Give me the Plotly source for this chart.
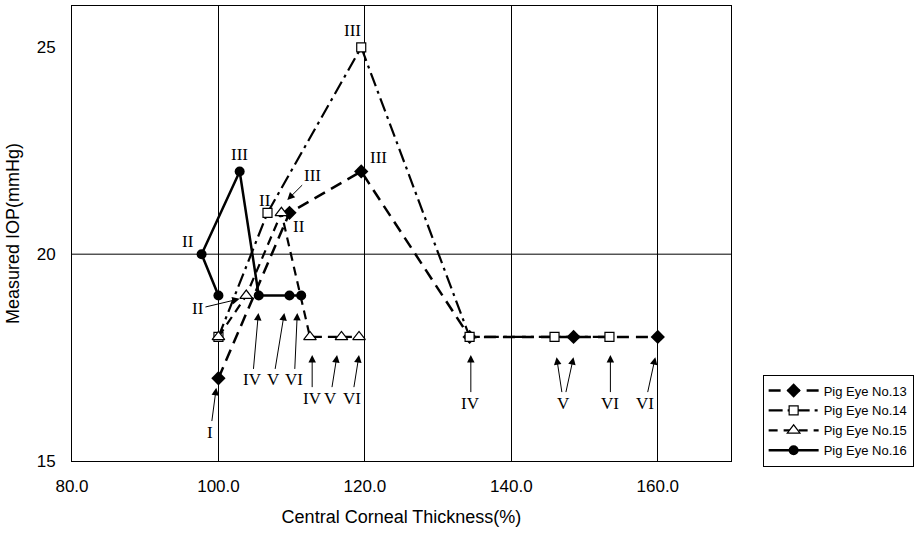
import plotly.graph_objects as go

# ---- data ----
x13 = [100.0, 109.7, 119.5, 134.3, 148.5, 160.0]
y13 = [17, 21, 22, 18, 18, 18]
x14 = [100.0, 106.7, 119.5, 134.3, 145.9, 153.4]
y14 = [18, 21, 25, 18, 18, 18]
x15 = [100.0, 103.8, 108.6, 112.5, 116.8, 119.2]
y15 = [18, 19, 21, 18, 18, 18]
x16 = [100.0, 97.7, 102.9, 105.5, 109.7, 111.3]
y16 = [19, 20, 22, 19, 19, 19]

names = ["Pig Eye No.13", "Pig Eye No.14", "Pig Eye No.15", "Pig Eye No.16"]

# labels without arrows: text, x, y
plain_labels = ["III", "II", "II", "II", "III", "III"]
plain_x = [102.9, 95.8, 106.3, 111.05, 121.9, 118.3]
plain_y = [22.40, 20.30, 21.31, 20.66, 22.33, 25.40]

# labels with arrows: text, text x/y, arrow-head x/y (flag: show text)
arrow_labels = ["III", "II", "I", "IV", "V", "VI", "IV", "V", "VI", "IV", "V", "V", "VI", "VI"]
arrow_show = [1, 1, 1, 1, 1, 1, 1, 1, 1, 1, 1, 0, 1, 1]
arrow_tx = [112.8, 97.2, 98.9, 104.65, 107.5, 110.36, 112.8, 115.27, 118.26, 134.47, 147.13, 147.13, 153.53, 158.3]
arrow_ty = [21.91, 18.68, 15.70, 16.96, 16.96, 16.96, 16.52, 16.52, 16.52, 16.40, 16.40, 16.40, 16.40, 16.40]
arrow_hx = [109.4, 102.9, 99.7, 105.46, 109.0, 110.77, 112.8, 116.2, 119.2, 134.47, 146.18, 148.49, 153.53, 159.66]
arrow_hy = [21.31, 18.92, 16.77, 18.58, 18.58, 18.58, 17.56, 17.56, 17.56, 17.56, 17.51, 17.51, 17.56, 17.51]

fig = go.Figure()

fig.add_trace(go.Scatter(x=x13, y=y13, name=names[0], mode="lines+markers",
                         line=dict(color="black", width=2.5, dash="12px,7px"),
                         marker=dict(symbol="diamond", size=11, color="black")))
fig.add_trace(go.Scatter(x=x14, y=y14, name=names[1], mode="lines+markers",
                         line=dict(color="black", width=2.2, dash="14px,5px,3px,5px"),
                         marker=dict(symbol="square", size=9, color="white",
                                     line=dict(color="black", width=1.2))))
fig.add_trace(go.Scatter(x=x15, y=y15, name=names[2], mode="lines+markers",
                         line=dict(color="black", width=2.2, dash="9px,6px"),
                         marker=dict(symbol="triangle-up", size=11, color="white",
                                     line=dict(color="black", width=1.2))))
fig.add_trace(go.Scatter(x=x16, y=y16, name=names[3], mode="lines+markers",
                         line=dict(color="black", width=2.5),
                         marker=dict(symbol="circle", size=10, color="black")))

lab_font = dict(family="Liberation Serif", size=17, color="black")
hidden_font = dict(family="Liberation Serif", size=17, color="rgba(0,0,0,0)")
annotations = []
for t, x, y in zip(plain_labels, plain_x, plain_y):
    annotations.append(dict(x=x, y=y, xref="x", yref="y", text=t, showarrow=False, font=lab_font))
for t, s, tx, ty, hx, hy in zip(arrow_labels, arrow_show, arrow_tx, arrow_ty, arrow_hx, arrow_hy):
    annotations.append(dict(x=hx, y=hy, xref="x", yref="y", ax=tx, ay=ty, axref="x", ayref="y",
                            text=t, showarrow=True, arrowhead=2, arrowsize=1.5, arrowwidth=1,
                            arrowcolor="black", standoff=0,
                            font=lab_font if s else hidden_font))

fig.update_layout(
    width=920, height=534,
    margin=dict(l=72, r=187, t=6, b=73),
    paper_bgcolor="white", plot_bgcolor="white",
    font=dict(family="Liberation Sans", size=15, color="black"),
    showlegend=True,
    legend=dict(x=1.048, y=0.19, xanchor="left", yanchor="top",
                bordercolor="black", borderwidth=1, bgcolor="white",
                font=dict(family="Liberation Sans", size=13, color="black"),
                itemwidth=50, tracegroupgap=0),
    annotations=annotations,
    shapes=[dict(type="line", xref="paper", yref="y", x0=0, x1=1, y0=20, y1=20,
                 line=dict(color="black", width=1), layer="below")],
)

fig.update_xaxes(range=[80, 170], tick0=80, dtick=20, tickformat=".1f",
                 showgrid=True, gridcolor="black", gridwidth=1, zeroline=False,
                 showline=True, linecolor="black", linewidth=1, mirror=True, ticks="",
                 ticklabelstandoff=10,
                 title=dict(text="Central Corneal Thickness(%)", standoff=14,
                            font=dict(size=18)),
                 tickfont=dict(size=17))
fig.update_yaxes(range=[15, 26], tickvals=[15, 20, 25],
                 showgrid=False, zeroline=False,
                 showline=True, linecolor="black", linewidth=1, mirror=True, ticks="",
                 ticklabelstandoff=12,
                 title=dict(text="Measured IOP(mmHg)", standoff=12, font=dict(size=18)),
                 tickfont=dict(size=17))

fig.write_html("out.html")
